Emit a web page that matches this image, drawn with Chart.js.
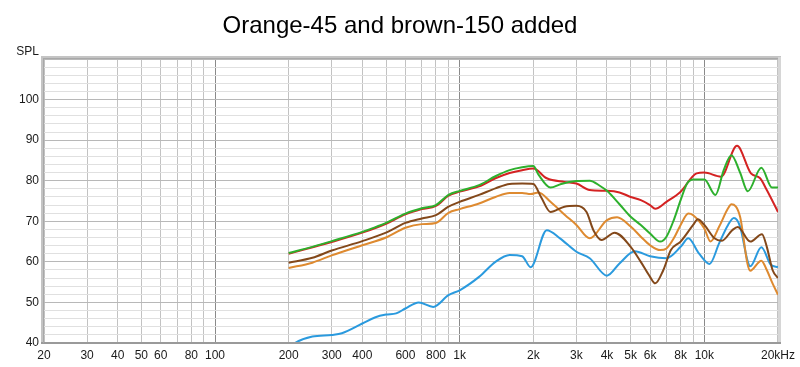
<!DOCTYPE html>
<html><head><meta charset="utf-8">
<script src="https://cdn.jsdelivr.net/npm/chart.js@4/dist/chart.umd.min.js"></script>
<style>html,body{margin:0;padding:0;background:#fff;overflow:hidden;}</style>
</head><body>
<canvas id="c" width="800" height="367"></canvas>
<script>
const chartTitle = 'Orange-45 and brown-150 added';
const yAxisTitle = 'SPL';

// x grid lines (Hz) and the ones that carry labels
const xGridValues = [20,30,40,50,60,70,80,90,100,200,300,400,500,600,700,800,900,1000,2000,3000,4000,5000,6000,7000,8000,9000,10000,20000];
const xLabelValues = [20,30,40,50,60,80,100,200,300,400,600,800,1000,2000,3000,4000,5000,6000,8000,10000,20000];
const xLabelTexts  = ['20','30','40','50','60','80','100','200','300','400','600','800','1k','2k','3k','4k','5k','6k','8k','10k','20kHz'];
const yMin = 40, yMax = 110, yMinorStep = 2;
const yLabelValues = [40,50,60,70,80,90,100];

// Green
const greenFreq = [200,250,300,400,450,500,600,700,800,900,1000,1200,1400,1600,1800,2000,2100,2350,2600,3000,3400,3750,4000,4500,5000,5500,6000,6600,7000,7500,8000,8500,9000,10000,11100,12000,12900,14000,15050,17100,18900,20000];
const greenSPL  = [62.2,63.7,65.1,67.4,68.5,69.6,71.9,73.2,74.0,76.5,77.5,78.9,81.1,82.6,83.3,83.6,81.5,78.3,79.2,79.9,80.0,78.7,77.5,74.2,71.1,69.1,67.0,65.0,66.2,70.3,75.2,79.3,80.3,80.3,76.5,82.6,86.3,82.0,77.4,83.2,78.3,78.3];
// Red
const redFreq = [200,300,400,500,600,700,800,900,1000,1200,1400,1600,1800,2000,2270,2680,3000,3400,4000,4500,5000,5500,6000,6300,7000,8000,9300,10000,11700,13600,15500,16900,18000,20000];
const redSPL  = [62.0,64.9,67.2,69.4,71.7,73.0,73.8,76.3,77.3,78.6,80.6,81.9,82.6,83.0,80.6,79.7,79.3,77.7,77.5,77.1,76.0,75.2,74.0,73.1,74.8,77.3,81.8,82.0,81.0,88.6,81.8,80.6,77.7,72.3];
// Orange
const orangeFreq = [200,250,300,400,500,600,700,800,900,1000,1200,1400,1600,1800,1950,2100,2350,2700,3000,3400,4000,4400,5000,5500,6000,6600,7000,7500,8000,8600,9000,10000,10600,11500,12500,12900,14000,15000,15400,17100,18000,19000,20000];
const orangeSPL  = [58.5,59.8,61.6,64.1,66.0,68.4,69.3,69.6,72.1,73.0,74.4,76.0,77.0,77.0,76.7,77.1,74.8,71.5,69.1,65.8,70.3,71.0,68.7,66.2,64.1,62.9,63.3,65.8,69.1,71.9,71.5,68.2,65.0,68.7,73.2,74.2,71.1,59.6,57.8,60.3,58.0,54.7,51.9];
// Brown
const brownFreq = [200,250,300,400,500,600,700,800,900,1000,1200,1400,1600,1800,2000,2150,2350,2680,3000,3300,3520,3800,4300,5000,5500,6000,6300,6800,7300,8000,9000,9400,10000,11000,11800,13000,13700,15400,17200,18000,19000,20000];
const brownSPL  = [59.8,61.0,62.8,65.1,67.2,69.6,70.7,71.5,73.6,74.8,76.5,78.1,79.2,79.3,79.2,76.0,72.3,73.6,73.8,72.3,67.8,65.4,67.2,63.7,60.0,56.3,54.7,58.0,62.9,65.0,69.1,70.5,69.1,65.8,65.2,67.8,68.6,65.0,66.8,63.7,58.0,56.0];
// Blue
const blueFreq = [200,212,250,300,330,400,450,500,550,600,680,780,900,1000,1200,1400,1600,1800,1950,2270,2570,3000,3400,4000,4500,5200,6000,7000,8000,8600,9500,10500,11500,12500,13200,14000,15000,15400,17100,18700,20000];
const blueSPL  = [38.8,40.0,41.6,42.0,42.4,44.8,46.3,47.0,47.3,48.5,50.0,48.9,51.8,53.0,56.3,60.0,61.7,61.4,58.7,67.8,65.8,62.5,60.9,56.6,59.6,62.6,61.4,60.9,63.7,65.8,62.1,59.5,64.6,69.1,70.8,68.7,60.4,58.9,63.6,59.3,58.7];

const FONT = "'Liberation Sans', Arial, sans-serif";
const pts = (f, v) => f.map((x, i) => ({x: x, y: v[i]}));

const yGridValues = [];
for (let v = yMin; v <= yMax; v += yMinorStep) yGridValues.push(v);

const framePlugin = {
  id: 'frame',
  afterDraw(chart) {
    const ctx = chart.ctx, a = chart.chartArea;
    ctx.save();
    // shadowed border
    ctx.fillStyle = '#c4c4c4';
    ctx.fillRect(a.left - 3, a.top - 3, 3, a.bottom - a.top + 3);
    ctx.fillRect(a.left - 3, a.top - 3, a.right - a.left + 6, 3);
    ctx.fillStyle = '#d6d6d6';
    ctx.fillRect(a.right, a.top - 2, 3, a.bottom - a.top + 2);
    ctx.fillStyle = '#9a9a9a';
    ctx.fillRect(a.left - 3, a.bottom - 1, a.right - a.left + 6, 2);
    ctx.fillStyle = '#a8a8a8';
    ctx.fillRect(a.left - 1, a.top - 1, 1, a.bottom - a.top + 1);
    ctx.fillRect(a.left - 1, a.top - 1, a.right - a.left + 1, 1);
    // texts
    ctx.fillStyle = '#000';
    ctx.font = '24px ' + FONT;
    ctx.textAlign = 'center';
    ctx.textBaseline = 'alphabetic';
    ctx.fillText(chartTitle, 400, 33);
    ctx.font = '12px ' + FONT;
    ctx.textAlign = 'right';
    ctx.fillStyle = '#1a1a1a';
    ctx.fillText(yAxisTitle, a.left - 5, a.top - 4);
    ctx.restore();
  }
};

const mk = (label, f, v, color) => ({label, data: pts(f, v), borderColor: color, borderWidth: 2, pointRadius: 0, fill: false, clip: 0, cubicInterpolationMode: 'monotone'});

new Chart(document.getElementById('c'), {
  type: 'line',
  data: {
    datasets: [
      mk('green', greenFreq, greenSPL, '#2db02d'),
      mk('red', redFreq, redSPL, '#d42222'),
      mk('brown', brownFreq, brownSPL, '#83481a'),
      mk('orange', orangeFreq, orangeSPL, '#de8a30'),
      mk('blue', blueFreq, blueSPL, '#2a9ade')
    ]
  },
  options: {
    responsive: false,
    animation: false,
    devicePixelRatio: 1,
    layout: {padding: {top: 59, right: 22, left: 0, bottom: 0}},
    plugins: {legend: {display: false}, tooltip: {enabled: false}, title: {display: false}},
    scales: {
      x: {
        type: 'logarithmic', min: 20, max: 20000,
        afterBuildTicks: s => { s.ticks = xGridValues.map(v => ({value: v})); },
        afterFit: s => { s.height = 24; },
        ticks: {
          autoSkip: false, maxRotation: 0, minRotation: 0, padding: 5,
          color: '#1a1a1a', font: {family: FONT, size: 12},
          callback: v => { const i = xLabelValues.indexOf(Math.round(v)); return i >= 0 ? xLabelTexts[i] : ''; }
        },
        grid: {
          drawTicks: false, lineWidth: 1,
          color: c => { const v = Math.round(c.tick.value); return (v === 100 || v === 1000 || v === 10000) ? '#8a8a8a' : '#c2c2c2'; }
        },
        border: {display: false}
      },
      y: {
        min: yMin, max: yMax,
        afterBuildTicks: s => { s.ticks = yGridValues.map(v => ({value: v})); },
        afterFit: s => { s.width = 44; },
        ticks: {
          autoSkip: false, padding: 5,
          color: '#1a1a1a', font: {family: FONT, size: 12},
          callback: v => yLabelValues.includes(v) ? String(v) : ''
        },
        grid: {
          drawTicks: false, lineWidth: 1,
          color: c => (c.tick.value % 10 === 0) ? '#b8b8b8' : '#e0e0e0'
        },
        border: {display: false}
      }
    }
  },
  plugins: [framePlugin]
});
</script>
</body></html>
